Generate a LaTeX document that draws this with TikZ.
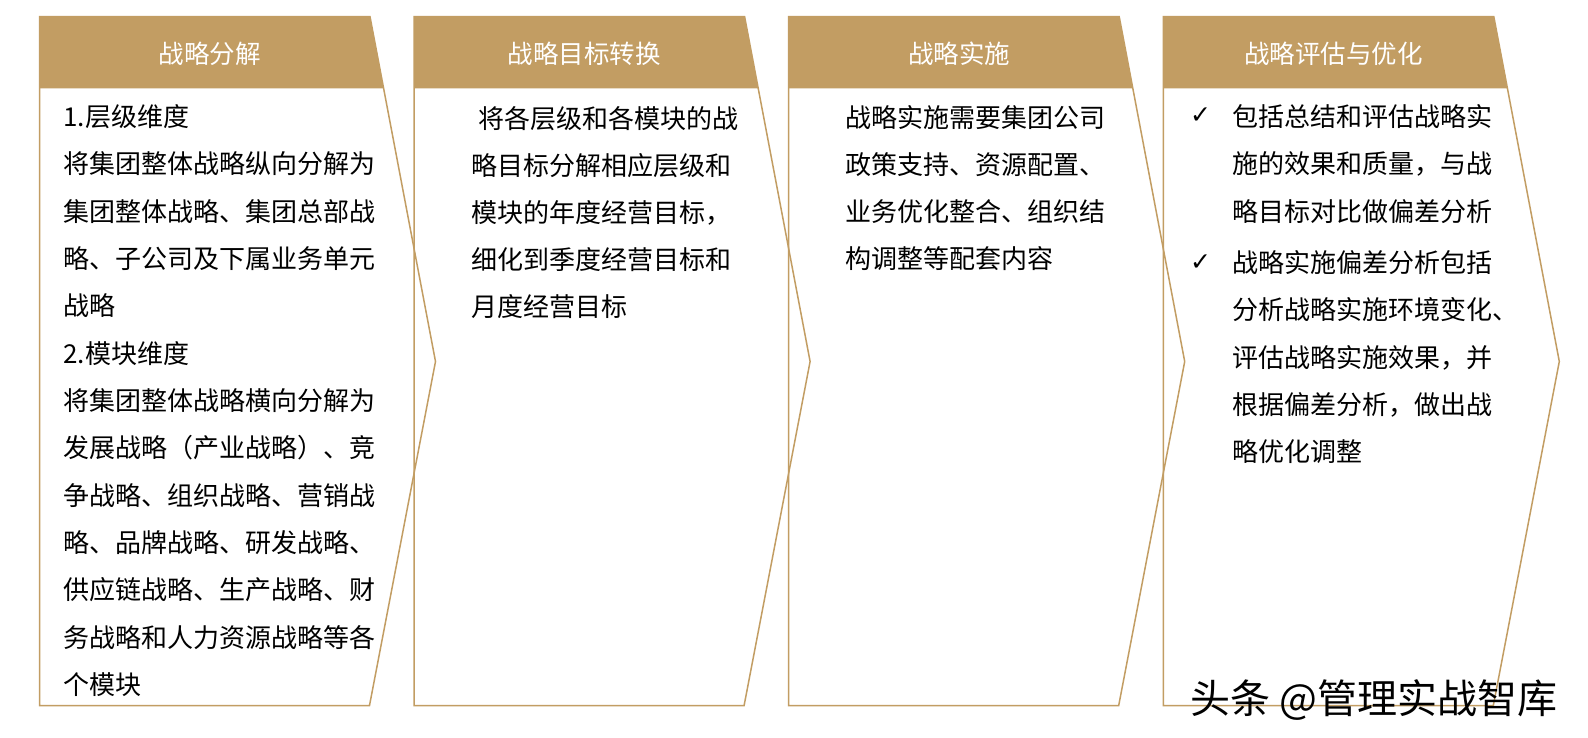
\documentclass[tikz,border=0pt]{standalone}
\usepackage{fontspec}
\newfontfamily\cjk{Noto Sans CJK SC}
\newfontfamily\symf{DejaVu Sans}
\definecolor{tanc}{HTML}{C29D63}
\begin{document}
\begin{tikzpicture}[x=1pt,y=-1pt,
  body/.style={anchor=base west, inner sep=0, font=\cjk\fontsize{26}{30}\selectfont, text=black},
  head/.style={anchor=base, inner sep=0, font=\cjk\fontsize{25.5}{30}\selectfont, text=white},
  tick/.style={anchor=base west, inner sep=0, font=\symf\fontsize{25}{28}\selectfont, text=black},
  border/.style={draw=tanc, line width=1.5pt, line join=miter},
  headfill/.style={fill=tanc}]
\useasboundingbox (0,0) rectangle (1588,738);
\fill[white] (0,0) rectangle (1588,738);
% panels
\foreach \i in {0,1,2,3}{
  \pgfmathsetmacro{\L}{39.5+374.6*\i}
  \fill[headfill] (\L,16.7) -- ({\L+330.5},16.7) -- ({\L+344.1},88.5) -- (\L,88.5) -- cycle;
  \draw[border] (\L,16.7) -- ({\L+330.5},16.7) -- ({\L+396},361.5) -- ({\L+330},705.5) -- (\L,705.5) -- cycle;
}
% headers
\node[head] (h1) at (209.5,64) {战略分解};
\node[head] (h2) at (584,64) {战略目标转换};
\node[head] (h3) at (959,64) {战略实施};
\node[head] (h4) at (1333.5,64) {战略评估与优化};
% panel 1
\foreach \t [count=\k from 0] in {1.层级维度,将集团整体战略纵向分解为,集团整体战略、集团总部战,略、子公司及下属业务单元,战略,2.模块维度,将集团整体战略横向分解为,发展战略（产业战略）、竞,争战略、组织战略、营销战,略、品牌战略、研发战略、,供应链战略、生产战略、财,务战略和人力资源战略等各,个模块}{
  \node[body] (a\k) at (63.3,{126.5+47.33*\k}) {\t};
}
% panel 2
\node[body] (b0) at (478,129) {将各层级和各模块的战};
\foreach \t [count=\k from 1] in {略目标分解相应层级和,模块的年度经营目标，,细化到季度经营目标和,月度经营目标}{
  \node[body] (b\k) at (471,{129+46.8*\k}) {\t};
}
% panel 3
\foreach \t [count=\k from 0] in {战略实施需要集团公司,政策支持、资源配置、,业务优化整合、组织结,构调整等配套内容}{
  \node[body] (c\k) at (845,{128+47*\k}) {\t};
}
% panel 4
\node[tick] (t1) at (1190,124) {✓};
\node[tick] (t2) at (1190,270) {✓};
\foreach \t [count=\k from 0] in {包括总结和评估战略实,施的效果和质量，与战,略目标对比做偏差分析}{
  \node[body] (d\k) at (1232.7,{126.5+47.5*\k}) {\t};
}
\foreach \t [count=\k from 0] in {战略实施偏差分析包括,分析战略实施环境变化、,评估战略实施效果，并,根据偏差分析，做出战,略优化调整}{
  \node[body] (e\k) at (1232.7,{272.5+47.3*\k}) {\t};
}
% watermark
\node[anchor=base west, inner sep=0, font=\cjk\fontsize{40}{44}\selectfont, text=black] (wm) at (1190,713) {头条 @管理实战智库};
\end{tikzpicture}
\end{document}
